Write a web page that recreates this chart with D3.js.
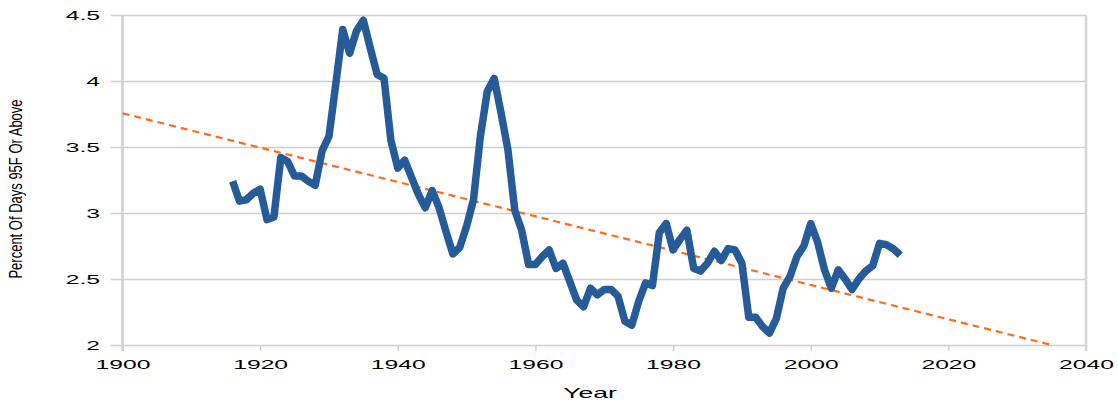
<!DOCTYPE html>
<html>
<head>
<meta charset="utf-8">
<script src="https://cdn.jsdelivr.net/npm/d3@7"></script>
<style>
  body { margin: 0; background: #fff; }
  text { font-family: "Liberation Sans", Arial, sans-serif; fill: #000; }
</style>
</head>
<body>
<div id="chart"></div>
<script>
// years of the observed series
var years = d3.range(1916, 2014);

// percent of days 95F or above, one value per year
var percentDays = [
  3.24, 3.09, 3.10, 3.15, 3.18, 2.95, 2.97, 3.42, 3.39, 3.28,
  3.28, 3.24, 3.21, 3.47, 3.58, 3.98, 4.39, 4.21, 4.38, 4.46,
  4.25, 4.05, 4.02, 3.55, 3.34, 3.40, 3.27, 3.14, 3.04, 3.17,
  3.04, 2.86, 2.69, 2.74, 2.90, 3.10, 3.58, 3.92, 4.02, 3.76,
  3.48, 3.02, 2.87, 2.61, 2.61, 2.67, 2.72, 2.58, 2.62, 2.48,
  2.34, 2.29, 2.43, 2.38, 2.42, 2.42, 2.37, 2.18, 2.15, 2.33,
  2.47, 2.45, 2.85, 2.92, 2.72, 2.80, 2.87, 2.58, 2.56, 2.62,
  2.71, 2.64, 2.73, 2.72, 2.62, 2.21, 2.21, 2.14, 2.09, 2.20,
  2.43, 2.52, 2.67, 2.75, 2.92, 2.78, 2.57, 2.43, 2.57, 2.50,
  2.42, 2.50, 2.56, 2.60, 2.77, 2.76, 2.73, 2.68
];

// trend line end points
var trendYears = [1900, 2035];
var trendValues = [3.755, 2.0];

// axis ticks
var xTicks = [1900, 1920, 1940, 1960, 1980, 2000, 2020, 2040];
var yTicks = [2, 2.5, 3, 3.5, 4, 4.5];

var outerWidth = 1118;
var outerHeight = 400;
var margin = { top: 15, right: 32, bottom: 55, left: 122.5 };
var innerWidth = outerWidth - margin.left - margin.right;
var innerHeight = outerHeight - margin.top - margin.bottom;

// the reference is stretched sideways, so text is too
var stretch = 1.9;

var svg = d3
  .select("#chart")
  .append("svg")
  .attr("width", outerWidth)
  .attr("height", outerHeight);

var g = svg
  .append("g")
  .attr("transform", "translate(" + margin.left + "," + margin.top + ")");

var xScale = d3.scaleLinear().domain([1900, 2040]).range([0, innerWidth]);
var yScale = d3.scaleLinear().domain([2, 4.5]).range([innerHeight, 0]);

//gridlines with left tick stubs
var yAxis = d3
  .axisLeft(yScale)
  .tickValues(yTicks)
  .tickSize(-innerWidth - 12)
  .tickFormat(function(d) { return d; });

var yAxisG = g
  .append("g")
  .attr("class", "y axis")
  .attr("transform", "translate(-12,0)")
  .call(yAxis);

yAxisG.select(".domain").remove();
yAxisG.selectAll(".tick line").attr("stroke", "#cfcfcf").attr("stroke-width", 1.5);
yAxisG
  .selectAll(".tick text")
  .attr("x", -10.5 / stretch)
  .attr("dy", "0.36em")
  .attr("transform", "scale(" + stretch + ",1)")
  .style("font-size", "13px")
  .style("fill", "#000");

//x axis ticks below the plot
var xAxis = d3
  .axisBottom(xScale)
  .tickValues(xTicks)
  .tickSize(6)
  .tickFormat(d3.format("d"));

var xAxisG = g
  .append("g")
  .attr("class", "x axis")
  .attr("transform", "translate(0," + innerHeight + ")")
  .call(xAxis);

xAxisG.select(".domain").remove();
xAxisG.selectAll(".tick line").attr("stroke", "#cfcfcf").attr("stroke-width", 1.5);
xAxisG
  .selectAll(".tick text")
  .attr("y", 24)
  .attr("dy", "0")
  .attr("transform", "scale(" + stretch + ",1)")
  .style("font-size", "13px")
  .style("fill", "#000");

//left and right frame lines
g.append("line")
  .attr("x1", 0).attr("x2", 0)
  .attr("y1", 0).attr("y2", innerHeight + 6)
  .attr("stroke", "#cfcfcf")
  .attr("stroke-width", 2.5);

g.append("line")
  .attr("x1", innerWidth).attr("x2", innerWidth)
  .attr("y1", 0).attr("y2", innerHeight + 6)
  .attr("stroke", "#d4d4d4")
  .attr("stroke-width", 2.5);

//trend line
g.append("line")
  .attr("x1", xScale(trendYears[0]))
  .attr("y1", yScale(trendValues[0]))
  .attr("x2", xScale(trendYears[1]))
  .attr("y2", yScale(trendValues[1]))
  .attr("stroke", "#ff6a1c")
  .attr("stroke-width", 2.2)
  .attr("stroke-dasharray", "7,5");

//data line
var line = d3
  .line()
  .x(function(d, i) { return xScale(years[i]); })
  .y(function(d) { return yScale(d); });

g.append("path")
  .datum(percentDays)
  .attr("d", line)
  .attr("fill", "none")
  .attr("stroke", "#255b98")
  .attr("stroke-width", 7.5)
  .attr("stroke-linejoin", "round");

//axis titles
svg
  .append("text")
  .attr("transform", "translate(590,398) scale(" + stretch + ",1)")
  .attr("text-anchor", "middle")
  .style("font-size", "14px")
  .text("Year");

svg
  .append("text")
  .attr("transform", "translate(22,189) scale(1.45,1) rotate(-90)")
  .attr("text-anchor", "middle")
  .style("font-size", "13px")
  .text("Percent Of Days 95F Or Above");
</script>
</body>
</html>
